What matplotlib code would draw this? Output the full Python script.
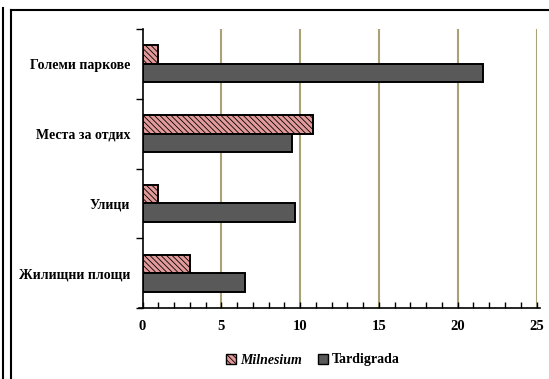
import matplotlib.pyplot as plt
import matplotlib.patches as mpatches
from matplotlib.lines import Line2D
import numpy as np

# ---------------------------------------------------
# Data
categories = ["Жилищни площи", "Улици", "Места за отдих", "Големи паркове"]
milnesium = [3.0, 1.0, 10.8, 1.0]
tardigrada = [6.5, 9.7, 9.5, 21.6]
x_ticks = [0, 5, 10, 15, 20, 25]

plt.rcParams["font.family"] = ["Liberation Serif", "DejaVu Serif"]
plt.rcParams["font.weight"] = "bold"
plt.rcParams["hatch.linewidth"] = 0.6
plt.rcParams["hatch.color"] = "#3a2020"

pink = "#E39A9A"
dark = "#595959"
hatch = "\\\\\\\\\\\\"

fig = plt.figure(figsize=(5.49, 3.79), dpi=100)
ax = fig.add_axes([142.5 / 549, 1 - 308 / 379, 394 / 549, 279 / 379])

y = np.arange(len(categories))
h = 0.265

ax.barh(y + h / 2, milnesium, height=h, color=pink, edgecolor="black",
        linewidth=1.4, hatch=hatch, label="Milnesium", zorder=3)
ax.barh(y - h / 2, tardigrada, height=h, color=dark, edgecolor="black",
        linewidth=1.4, label="Tardigrada", zorder=3)

# grid lines
for v in x_ticks[1:]:
    ax.axvline(v, color="#A8A274", linewidth=1.5, zorder=1)

ax.set_xlim(0, 25)
ax.set_ylim(-0.5, len(categories) - 0.5)
ax.set_xticks(x_ticks)
ax.set_xticks(np.arange(0, 26, 1), minor=True)
ax.tick_params(axis="x", which="both", direction="in", length=4, width=1,
               labelsize=10.5, pad=9)

ax.set_yticks(np.arange(-0.5, len(categories), 1))
ax.set_yticklabels([])
ax.set_yticks(y, minor=True)
ax.set_yticklabels(categories, minor=True, fontsize=10)
ax.tick_params(axis="y", which="major", direction="out", length=5, width=1)
ax.tick_params(axis="y", which="minor", length=0, pad=9)

for s in ["top", "right"]:
    ax.spines[s].set_visible(False)
ax.spines["left"].set_linewidth(1.2)
ax.spines["bottom"].set_linewidth(1.2)
ax.spines["bottom"].set_bounds(-0.25, 25.2)

# legend
handles = [
    mpatches.Patch(facecolor=pink, edgecolor="black", hatch=hatch, label="Milnesium"),
    mpatches.Patch(facecolor=dark, edgecolor="black", label="Tardigrada"),
]
leg = fig.legend(handles=handles, loc="center", bbox_to_anchor=(313 / 549, 1 - 360 / 379),
                 ncol=2, frameon=False, fontsize=10, handlelength=0.7, handleheight=0.7,
                 handletextpad=0.3, columnspacing=1.2)
leg.get_texts()[0].set_style("italic")

# outer frame
fig.add_artist(Line2D([11 / 549, 11 / 549], [0, 1 - 10 / 379], color="black", linewidth=1.5,
                      transform=fig.transFigure))
fig.add_artist(Line2D([11 / 549, 1], [1 - 10 / 379, 1 - 10 / 379], color="black", linewidth=1.5,
                      transform=fig.transFigure))
fig.add_artist(Line2D([3 / 549, 3 / 549], [0, 1 - 8 / 379], color="black", linewidth=1.5,
                      transform=fig.transFigure))

fig.savefig("out.png", dpi=100)
